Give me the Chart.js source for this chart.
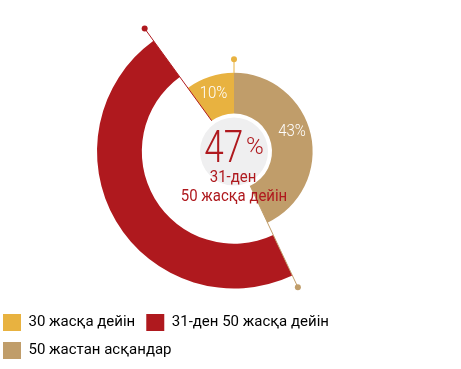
<!DOCTYPE html>
<html>
<head>
<meta charset="utf-8">
<script src="https://cdn.jsdelivr.net/npm/chart.js@4.4.1/dist/chart.umd.min.js"></script>
<style>
  html, body { margin: 0; padding: 0; background: #fff; }
  #wrap { width: 461px; height: 369px; }
</style>
</head>
<body>
<div id="wrap"><canvas id="ageChart"></canvas></div>
<script>
// segments in clockwise order from 12 o'clock
const categories = ["50 жастан асқандар", "31-ден 50 жасқа дейін", "30 жасқа дейін"];
const shares = [43, 47, 10];
const colors = ["#c09d6a", "#af191e", "#e8b240"];
// 0 = big outer ring, 2 = small inner ring
const ringOf = [2, 0, 2];
const centerValue = "47";
const centerLines = ["31-ден", "50 жасқа дейін"];

const ringWeights = [43, 13, 39];

// condensed text, the original uses a narrow face
function narrowText(c, text, x, y, sx) {
    c.save();
    c.translate(x, y);
    c.scale(sx, 1);
    c.fillText(text, 0, 0);
    c.restore();
}

document.addEventListener("DOMContentLoaded", function () {
    let ctx = document.getElementById("ageChart").getContext("2d");

    let datasets = ringWeights.map(function (w, r) {
        return {
            data: shares,
            weight: w,
            borderWidth: 0,
            backgroundColor: colors.map(function (c, i) { return ringOf[i] === r ? c : "rgba(0,0,0,0)"; })
        };
    });

    // legend sits flush left while the doughnut stays centred
    const shiftLegend = {
        id: "shiftLegend",
        afterLayout(chart) {
            chart.legend.left -= 15;
            chart.legend.right -= 15;
        }
    };

    // leader lines with dots at the end of every segment
    const pins = {
        id: "pins",
        afterDatasetsDraw(chart) {
            let c = chart.ctx;
            let big = chart.getDatasetMeta(0).data;
            let small = chart.getDatasetMeta(2).data;
            big.forEach(function (el, i) {
                let a = el.endAngle;
                let from, to;
                if (ringOf[i] === 0) {
                    from = small[i].innerRadius; to = el.outerRadius + 15;
                } else if (i === 0) {
                    from = small[i].innerRadius; to = el.outerRadius + 13;
                } else {
                    from = small[i].outerRadius; to = el.innerRadius;
                }
                c.save();
                c.strokeStyle = colors[i];
                c.fillStyle = colors[i];
                c.lineWidth = 1;
                c.beginPath();
                c.moveTo(el.x + Math.cos(a) * from, el.y + Math.sin(a) * from);
                c.lineTo(el.x + Math.cos(a) * to, el.y + Math.sin(a) * to);
                c.stroke();
                c.beginPath();
                c.arc(el.x + Math.cos(a) * to, el.y + Math.sin(a) * to, 3, 0, Math.PI * 2);
                c.fill();
                c.restore();
            });
        }
    };

    // percent labels on the small ring and the centre text
    const texts = {
        id: "texts",
        afterDatasetsDraw(chart) {
            let c = chart.ctx;
            let small = chart.getDatasetMeta(2).data;
            c.save();
            c.textAlign = "center";
            c.textBaseline = "middle";
            c.fillStyle = "#ffffff";
            c.font = "300 17px Roboto";
            small.forEach(function (el, i) {
                if (ringOf[i] !== 2) return;
                let a = el.startAngle + (el.endAngle - el.startAngle) * 0.46;
                let r = (el.innerRadius + el.outerRadius) / 2 + 3;
                narrowText(c, shares[i] + "%", el.x + Math.cos(a) * r, el.y + Math.sin(a) * r, 0.88);
            });

            let cx = small[0].x, cy = small[0].y;
            c.fillStyle = "#efeff0";
            c.beginPath();
            c.arc(cx, cy, 34, 0, Math.PI * 2);
            c.fill();

            c.fillStyle = colors[1];
            c.textBaseline = "alphabetic";
            c.textAlign = "left";
            c.font = "300 45px Roboto";
            let w1 = c.measureText(centerValue).width * 0.78;
            c.font = "300 24px Roboto";
            let w2 = c.measureText("%").width;
            let x0 = cx - (w1 + 3 + w2) / 2;
            c.font = "300 45px Roboto";
            narrowText(c, centerValue, x0, cy + 10, 0.78);
            c.font = "300 24px Roboto";
            c.fillText("%", x0 + w1 + 3, cy + 2);

            c.textAlign = "center";
            c.font = "17px Roboto";
            narrowText(c, centerLines[0], cx - 1, cy + 30, 0.88);
            narrowText(c, centerLines[1], cx, cy + 49, 0.88);
            c.restore();
        }
    };

    new Chart(ctx, {
        type: "doughnut",
        data: { labels: categories, datasets: datasets },
        options: {
            responsive: true,
            maintainAspectRatio: false,
            animation: false,
            radius: 137,
            cutout: 42,
            layout: { padding: { left: 7, right: 0, top: 0, bottom: 0 } },
            plugins: {
                tooltip: { enabled: false },
                legend: {
                    position: "bottom",
                    align: "start",
                    reverse: true,
                    labels: {
                        boxWidth: 18,
                        boxHeight: 17,
                        padding: 11,
                        color: "#333333",
                        font: { family: "Roboto", size: 15 },
                        generateLabels: function () {
                            return categories.map(function (t, i) {
                                return { text: t, fillStyle: colors[i], strokeStyle: colors[i], lineWidth: 0, hidden: false, index: i };
                            });
                        }
                    }
                }
            }
        },
        plugins: [shiftLegend, pins, texts]
    });
});
</script>
</body>
</html>
